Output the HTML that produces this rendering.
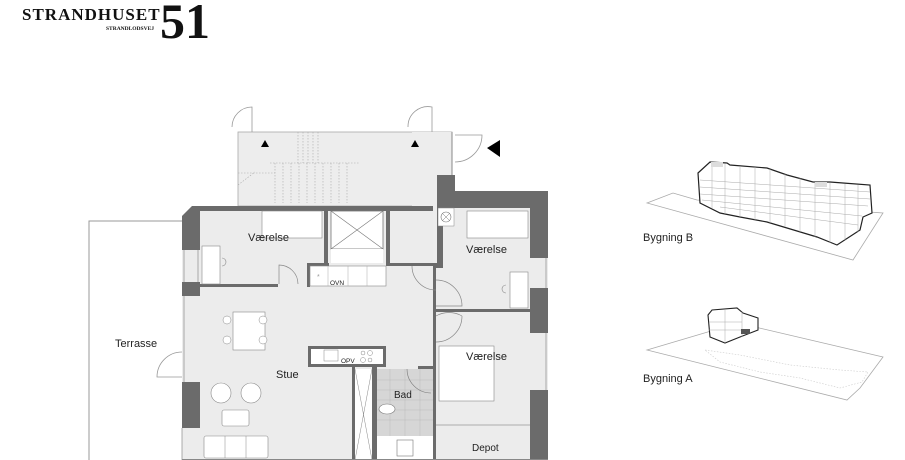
<!DOCTYPE html>
<html><head><meta charset="utf-8"><style>
html,body{margin:0;padding:0;background:#fff;}
svg{display:block;font-family:"Liberation Sans",Arial,sans-serif;}
</style></head><body>
<svg width="905" height="460" viewBox="0 0 905 460" xmlns="http://www.w3.org/2000/svg">
<rect width="905" height="460" fill="#fff"/>
<!-- logo -->
<text x="22" y="20" font-family="Liberation Serif,serif" font-weight="bold" font-size="17" fill="#111" letter-spacing="1">STRANDHUSET</text>
<text x="106" y="30" font-family="Liberation Serif,serif" font-weight="bold" font-size="5.5" fill="#111">STRANDLODSVEJ</text>
<text x="160" y="38" font-family="Liberation Serif,serif" font-weight="bold" font-size="50" fill="#111">51</text>

<!-- terrace -->
<polyline points="89,460 89,221 182,221" fill="none" stroke="#999" stroke-width="1"/>
<text x="115" y="347" font-size="11" fill="#222">Terrasse</text>
<path d="M182,352 A25,25 0 0 0 157,377 L182,377" fill="none" stroke="#999" stroke-width="0.8"/>

<!-- stair hall -->
<rect x="238" y="132" width="214" height="74" fill="#ededed" stroke="#aaa" stroke-width="0.8"/>
<rect x="412" y="132" width="40" height="131" fill="#ededed"/>
<line x1="452" y1="132" x2="452" y2="175" stroke="#888"/>
<g stroke="#aaa" stroke-width="0.6" stroke-dasharray="1.5,1.5" fill="none">
<line x1="270" y1="163" x2="360" y2="163"/>
<line x1="238" y1="173" x2="275" y2="173"/>
<line x1="275" y1="163" x2="275" y2="203"/>
<line x1="298" y1="132" x2="298" y2="163"/>
<line x1="303" y1="132" x2="303" y2="163"/>
<line x1="308" y1="132" x2="308" y2="163"/>
<line x1="313" y1="132" x2="313" y2="163"/>
<line x1="318" y1="132" x2="318" y2="163"/>
<line x1="283" y1="163" x2="283" y2="203"/>
<line x1="291" y1="163" x2="291" y2="203"/>
<line x1="299" y1="163" x2="299" y2="203"/>
<line x1="307" y1="163" x2="307" y2="203"/>
<line x1="315" y1="163" x2="315" y2="203"/>
<line x1="323" y1="163" x2="323" y2="203"/>
<line x1="331" y1="163" x2="331" y2="203"/>
<line x1="339" y1="163" x2="339" y2="203"/>
<line x1="347" y1="163" x2="347" y2="203"/>
<line x1="238" y1="185" x2="255" y2="172"/>
</g>
<g stroke="#999" stroke-width="0.8" fill="none">
<path d="M252,132 V107 A20,20 0 0 0 232,127"/>
<path d="M432,132 V107 A20,20 0 0 0 408,127"/>
<path d="M455,135 H482 A27,27 0 0 1 455,162"/>
</g>
<polygon points="261,147 265,140 269,147" fill="#000"/>
<polygon points="411,147 415,140 419,147" fill="#000"/>
<polygon points="411,253 415,260 419,253" fill="#000"/>
<polygon points="487,148 500,140 500,157" fill="#000"/>

<!-- apartment floor -->
<polygon points="182,216 192,206 433,206 433,263 437,263 437,191 548,191 548,460 182,460" fill="#ececec"/>
<rect x="433" y="263" width="5" height="197" fill="#ececec"/>

<!-- walls dark -->
<g fill="#6b6b6b">
<polygon points="182,216 192,206 433,206 433,211 200,211 200,250 182,250"/>
<rect x="182" y="282" width="18" height="14"/>
<rect x="182" y="382" width="18" height="46"/>
<rect x="437" y="175" width="18" height="33"/>
<rect x="437" y="191" width="111" height="17"/>
<rect x="437" y="208" width="6" height="60"/>
<rect x="433" y="263" width="10" height="5"/>
<rect x="530" y="191" width="18" height="67"/>
<rect x="530" y="288" width="18" height="45"/>
<rect x="530" y="390" width="18" height="70"/>
<rect x="200" y="284" width="78" height="3"/>
<rect x="324" y="206" width="4" height="60"/>
<rect x="386" y="206" width="4" height="60"/>
<rect x="386" y="263" width="50" height="3"/>
<rect x="307" y="266" width="3" height="21"/>
<rect x="307" y="263" width="22" height="3"/>
<rect x="433" y="268" width="3" height="192"/>
<rect x="433" y="309" width="97" height="3"/>
<rect x="308" y="346" width="78" height="3"/>
<rect x="308" y="346" width="3" height="20"/>
<rect x="383" y="346" width="3" height="20"/>
<rect x="308" y="364" width="78" height="3"/>
<rect x="352" y="366" width="3" height="94"/>
<rect x="372" y="366" width="3" height="94"/>
<rect x="374" y="366" width="3" height="94"/>
<rect x="418" y="366" width="15" height="3"/>
</g>
<!-- window lines -->
<g stroke="#999" stroke-width="0.8">
<line x1="184" y1="250" x2="184" y2="282"/><line x1="198" y1="250" x2="198" y2="282"/>
<line x1="184" y1="296" x2="184" y2="382"/><line x1="182" y1="428" x2="182" y2="460"/>
<line x1="546" y1="258" x2="546" y2="288"/><line x1="546" y1="333" x2="546" y2="390"/>
</g>

<!-- elevator -->
<rect x="331" y="211" width="52" height="38" fill="#fff" stroke="#777" stroke-width="0.8"/>
<line x1="331" y1="211" x2="383" y2="249" stroke="#777" stroke-width="0.6"/>
<line x1="383" y1="211" x2="331" y2="249" stroke="#777" stroke-width="0.6"/>
<rect x="331" y="249" width="52" height="14" fill="#fff"/>

<!-- kitchen OVN -->
<rect x="310" y="266" width="76" height="20" fill="#fff" stroke="#888" stroke-width="0.6"/>
<line x1="328" y1="266" x2="328" y2="286" stroke="#aaa" stroke-width="0.5"/>
<line x1="348" y1="266" x2="348" y2="286" stroke="#aaa" stroke-width="0.5"/>
<line x1="367" y1="266" x2="367" y2="286" stroke="#aaa" stroke-width="0.5"/>
<text x="330" y="285" font-size="6.5" fill="#222">OVN</text>
<text x="317" y="279" font-size="7" fill="#999">*</text>

<!-- island OPV -->
<rect x="311" y="349" width="72" height="15" fill="#fff"/>
<rect x="324" y="350" width="14" height="11" fill="none" stroke="#888" stroke-width="0.5"/>
<text x="341" y="363" font-size="6.5" fill="#222">OPV</text>
<circle cx="363" cy="353" r="2" fill="none" stroke="#888" stroke-width="0.5"/>
<circle cx="370" cy="353" r="2.5" fill="none" stroke="#888" stroke-width="0.5"/>
<circle cx="363" cy="360" r="2.5" fill="none" stroke="#888" stroke-width="0.5"/>
<circle cx="370" cy="360" r="2" fill="none" stroke="#888" stroke-width="0.5"/>

<!-- shaft -->
<rect x="355" y="369" width="17" height="91" fill="#fff"/>
<line x1="355" y1="369" x2="372" y2="460" stroke="#888" stroke-width="0.5"/>
<line x1="372" y1="369" x2="355" y2="460" stroke="#888" stroke-width="0.5"/>

<!-- bathroom -->
<rect x="377" y="369" width="56" height="67" fill="#d6d6d6"/>
<g stroke="#bbb" stroke-width="0.5">
<line x1="377" y1="380" x2="433" y2="380"/><line x1="377" y1="390" x2="433" y2="390"/><line x1="377" y1="400" x2="433" y2="400"/><line x1="377" y1="410" x2="433" y2="410"/><line x1="377" y1="420" x2="433" y2="420"/>
<line x1="390" y1="369" x2="390" y2="436"/><line x1="405" y1="369" x2="405" y2="436"/><line x1="420" y1="369" x2="420" y2="436"/>
</g>
<rect x="377" y="436" width="56" height="24" fill="#fff"/>
<rect x="397" y="440" width="16" height="16" fill="none" stroke="#777" stroke-width="0.6"/>
<ellipse cx="387" cy="409" rx="8" ry="5" fill="#fff" stroke="#777" stroke-width="0.6"/>
<path d="M407,369 A24,24 0 0 0 431,393" fill="none" stroke="#777" stroke-width="0.6"/>
<text x="394" y="398" font-size="10" fill="#222">Bad</text>

<!-- room 1 furniture -->
<rect x="262" y="211" width="60" height="27" fill="#fff" stroke="#888" stroke-width="0.6"/>
<rect x="202" y="246" width="18" height="38" fill="#fff" stroke="#888" stroke-width="0.6"/>
<path d="M222,258 a4,4 0 1 1 0,8" fill="none" stroke="#888" stroke-width="0.6"/>
<path d="M279,284 V265 A19,19 0 0 1 298,284" fill="none" stroke="#888" stroke-width="0.7"/>
<text x="248" y="241" font-size="11" fill="#222">Værelse</text>

<!-- right room 1 -->
<rect x="438" y="208" width="16" height="18" fill="#fff" stroke="#888" stroke-width="0.5"/>
<circle cx="446" cy="217" r="5" fill="none" stroke="#777" stroke-width="0.6"/>
<line x1="442.5" y1="213.5" x2="449.5" y2="220.5" stroke="#777" stroke-width="0.5"/>
<line x1="449.5" y1="213.5" x2="442.5" y2="220.5" stroke="#777" stroke-width="0.5"/>
<rect x="467" y="211" width="61" height="27" fill="#fff" stroke="#888" stroke-width="0.6"/>
<rect x="510" y="272" width="18" height="36" fill="#fff" stroke="#888" stroke-width="0.6"/>
<path d="M506,285 a4,4 0 1 0 0,8" fill="none" stroke="#888" stroke-width="0.6"/>
<text x="466" y="253" font-size="11" fill="#222">Værelse</text>
<path d="M436,280 A26,26 0 0 1 462,306 H436" fill="none" stroke="#888" stroke-width="0.7"/>
<path d="M436,316 A26,26 0 0 1 462,316" fill="none" stroke="#888" stroke-width="0.7"/>
<path d="M436,342 A26,26 0 0 0 462,316" fill="none" stroke="#888" stroke-width="0.7"/>
<path d="M412,266 A24,24 0 0 0 436,290" fill="none" stroke="#888" stroke-width="0.7"/>

<!-- right room 2 -->
<rect x="439" y="346" width="55" height="55" fill="#fff" stroke="#888" stroke-width="0.6"/>
<text x="466" y="360" font-size="11" fill="#222">Værelse</text>
<line x1="436" y1="425" x2="530" y2="425" stroke="#999" stroke-width="0.8"/>
<text x="472" y="451" font-size="10" fill="#222">Depot</text>

<!-- living furniture -->
<rect x="233" y="312" width="32" height="38" fill="#fff" stroke="#888" stroke-width="0.6"/>
<circle cx="227" cy="320" r="4" fill="#fff" stroke="#888" stroke-width="0.5"/>
<circle cx="227" cy="340" r="4" fill="#fff" stroke="#888" stroke-width="0.5"/>
<circle cx="263" cy="320" r="4" fill="#fff" stroke="#888" stroke-width="0.5"/>
<circle cx="263" cy="340" r="4" fill="#fff" stroke="#888" stroke-width="0.5"/>
<text x="276" y="378" font-size="11" fill="#222">Stue</text>
<circle cx="221" cy="393" r="10" fill="#fff" stroke="#888" stroke-width="0.6"/>
<circle cx="251" cy="393" r="10" fill="#fff" stroke="#888" stroke-width="0.6"/>
<rect x="222" y="410" width="27" height="16" rx="2" fill="#fff" stroke="#888" stroke-width="0.6"/>
<rect x="204" y="436" width="64" height="22" rx="2" fill="#fff" stroke="#888" stroke-width="0.6"/>
<line x1="225" y1="436" x2="225" y2="458" stroke="#888" stroke-width="0.5"/>
<line x1="246" y1="436" x2="246" y2="458" stroke="#888" stroke-width="0.5"/>
<line x1="182" y1="459.5" x2="548" y2="459.5" stroke="#888" stroke-width="1"/>

<!-- Building B -->
<polygon points="647,203 673,193 697,200 883,213 853,260" fill="none" stroke="#aaa" stroke-width="0.8"/>
<polygon points="698,173 710,162 727,163 730,165 767,168 787,175 813,182 830,182 843,183 870,185 872,213 863,217 860,230 837,245 817,237 767,222 740,217 720,213 700,203" fill="#fff" stroke="#222" stroke-width="1.2"/>
<g stroke="#aaa" stroke-width="0.5">
<line x1="700" y1="180" x2="870" y2="192"/><line x1="700" y1="187" x2="870" y2="199"/><line x1="700" y1="194" x2="868" y2="206"/><line x1="702" y1="200" x2="862" y2="216"/><line x1="720" y1="207" x2="858" y2="225"/>
<line x1="712" y1="163" x2="712" y2="208"/><line x1="725" y1="164" x2="725" y2="214"/><line x1="740" y1="166" x2="740" y2="217"/><line x1="755" y1="167" x2="755" y2="220"/><line x1="770" y1="169" x2="770" y2="223"/><line x1="785" y1="174" x2="785" y2="227"/><line x1="800" y1="178" x2="800" y2="232"/><line x1="815" y1="182" x2="815" y2="237"/><line x1="830" y1="183" x2="830" y2="243"/><line x1="845" y1="184" x2="845" y2="240"/><line x1="858" y1="185" x2="858" y2="232"/>
</g>
<rect x="711" y="162" width="12" height="5" fill="#ddd"/>
<rect x="815" y="182" width="12" height="5" fill="#ddd"/>
<text x="643" y="241" font-size="11" fill="#222">Bygning B</text>

<!-- Building A -->
<polygon points="647,350 738,323 883,357 860,388 847,400" fill="none" stroke="#aaa" stroke-width="0.8"/>
<polyline points="705,350 740,355 790,365 840,370 868,372 862,382 840,388 800,378 760,372 720,362 705,350" fill="none" stroke="#ccc" stroke-width="0.6" stroke-dasharray="1.5,1.5"/>
<polygon points="708,315 712,310 737,308 743,313 758,318 758,330 740,337 725,343 710,337" fill="#fff" stroke="#222" stroke-width="1.1"/>
<g stroke="#aaa" stroke-width="0.5">
<line x1="709" y1="322" x2="742" y2="322"/><line x1="709" y1="330" x2="742" y2="330"/><line x1="725" y1="310" x2="725" y2="343"/><line x1="742" y1="312" x2="742" y2="337"/>
</g>
<rect x="741" y="329" width="9" height="5" fill="#555"/>
<text x="643" y="382" font-size="11" fill="#222">Bygning A</text>
</svg>
</body></html>
